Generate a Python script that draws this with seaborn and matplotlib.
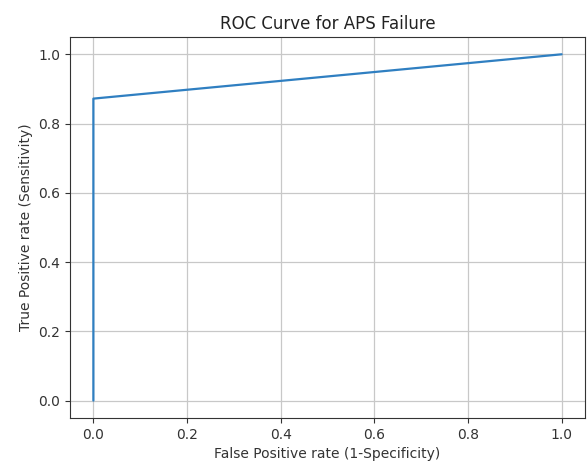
import matplotlib
matplotlib.use("Agg")
import matplotlib.pyplot as plt
import pandas as pd
import seaborn as sns

# ROC points
fpr = [0.0, 0.0, 1.0]
tpr = [0.0, 0.872, 1.0]

sns.set_style("ticks")
plt.rcParams['font.family'] = ['DejaVu Sans']

data = pd.DataFrame({'fpr': fpr, 'tpr': tpr})

fig = plt.figure(figsize=(5.88, 4.68), dpi=100)
ax = fig.add_axes([0.119, 0.107, 0.876, 0.814])
# estimator=None so the two points at fpr=0 are not averaged
sns.lineplot(x='fpr', y='tpr', data=data, sort=False, estimator=None,
             color='#2f7fc1', linewidth=1.6, ax=ax, zorder=3)
ax.set_xlim(-0.05, 1.05)
ax.set_ylim(-0.05, 1.05)
ax.grid(True, color='#c8c8c8', linewidth=0.9)
for s in ax.spines.values():
    s.set_visible(True)
    s.set_color('#333333')
ax.tick_params(labelsize=10, colors='#333333')
ax.set_xlabel('False Positive rate (1-Specificity)', fontsize=10, color='#333333')
ax.set_ylabel('True Positive rate (Sensitivity)', fontsize=10, color='#333333')
ax.set_title('ROC Curve for APS Failure', fontsize=12, color='#222222')

plt.savefig('out.png', dpi=100)
